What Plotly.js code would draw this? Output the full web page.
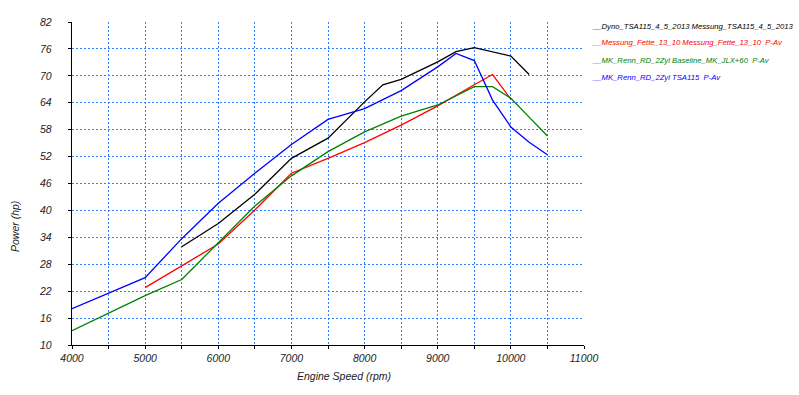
<!DOCTYPE html>
<html>
<head>
<meta charset="utf-8">
<script src="https://cdn.plot.ly/plotly-3.0.1.min.js"></script>
<style>html,body{margin:0;padding:0;background:#fff;}#chart{width:799px;height:395px;}</style>
</head>
<body>
<div id="chart"></div>
<script>
// ---- data ----
const seriesNames = [
  "__Dyno_TSA115_4_5_2013 Messung_TSA115_4_5_2013",
  "__Messung_Fette_13_10 Messung_Fette_13_10  P-Av",
  "__MK_Renn_RD_2Zyl Baseline_MK_JLX+60  P-Av",
  "__MK_Renn_RD_2Zyl TSA115  P-Av"
];
const dynoRpm = [5500, 6000, 6500, 7000, 7500, 8000, 8250, 8500, 9000, 9250, 9500, 10000, 10250];
const dynoHp  = [31.9, 37.1, 43.6, 51.6, 56.1, 64.2, 68.0, 69.2, 73.1, 75.4, 76.3, 74.4, 70.3];
const fetteRpm = [5000, 5500, 6000, 6500, 7000, 7500, 8000, 8500, 9000, 9500, 9750, 10000];
const fetteHp  = [22.8, 27.7, 32.5, 40.1, 48.3, 51.6, 55.1, 59.0, 63.3, 68.0, 70.3, 64.8];
const baseRpm = [4000, 4500, 5000, 5500, 6000, 6500, 7000, 7500, 8000, 8500, 9000, 9250, 9500, 9750, 10000, 10250, 10500];
const baseHp  = [13.2, 17.1, 21.0, 24.6, 32.7, 41.0, 47.7, 53.1, 57.5, 61.0, 63.5, 65.5, 67.6, 67.6, 65.0, 60.8, 56.6];
const tsaRpm = [4000, 4500, 5000, 5500, 6000, 6500, 7000, 7500, 8000, 8500, 9000, 9250, 9500, 9750, 10000, 10250, 10500];
const tsaHp  = [18.1, 21.5, 25.0, 33.7, 41.6, 48.3, 54.7, 60.3, 62.7, 66.7, 72.0, 75.0, 73.4, 64.6, 58.6, 55.2, 52.4];
const seriesColors = ["#000000", "#ff0000", "#008000", "#0000ff"];
const xTitle = "Engine Speed (rpm)";
const yTitle = "Power (hp)";

const xs = [dynoRpm, fetteRpm, baseRpm, tsaRpm];
const ys = [dynoHp, fetteHp, baseHp, tsaHp];
const traces = xs.map((x, i) => ({
  x: x, y: ys[i], type: 'scatter', mode: 'lines', name: seriesNames[i],
  line: {color: seriesColors[i], width: 1.3}, showlegend: false, hoverinfo: 'skip'
}));

const FONT = '"Liberation Sans", Arial, sans-serif';
const gridColor = '#2f80ff';
const legendAnns = seriesNames.map((n, i) => ({
  xref: 'paper', yref: 'paper', x: 1.0115, y: 1 - (4 + 17 * i) / 323,
  xanchor: 'left', yanchor: 'middle', showarrow: false, text: n,
  font: {family: FONT, size: 7.7, color: seriesColors[i], style: 'italic'}
}));

const layout = {
  width: 799, height: 395,
  margin: {l: 72, r: 215, t: 22, b: 50},
  paper_bgcolor: '#ffffff', plot_bgcolor: '#ffffff',
  font: {family: FONT, color: '#222'},
  xaxis: {
    range: [4000, 11000], tick0: 4000, dtick: 1000, tickmode: 'linear', tickformat: 'd',
    showgrid: true, gridcolor: gridColor, griddash: '2px,2px', gridwidth: 1,
    minor: {dtick: 500, showgrid: true, gridcolor: gridColor, griddash: '2px,2px', gridwidth: 1, ticks: 'outside', ticklen: 3, tickcolor: '#000'},
    showline: true, linecolor: '#000', linewidth: 1.2, mirror: false,
    ticks: 'outside', ticklen: 3, tickcolor: '#000',
    tickfont: {family: FONT, size: 10.5, color: '#222', style: 'italic'},
    zeroline: false, fixedrange: true
  },
  yaxis: {
    range: [10, 82], tick0: 10, dtick: 6, tickmode: 'linear',
    showgrid: true, gridcolor: gridColor, griddash: '2px,2px', gridwidth: 1,
    showline: true, linecolor: '#000', linewidth: 1.2, mirror: false,
    ticks: 'outside', ticklen: 3, tickcolor: '#000', ticklabelstandoff: 14,
    tickfont: {family: FONT, size: 10.5, color: '#222', style: 'italic'},
    zeroline: false, fixedrange: true
  },
  annotations: legendAnns.concat([
    {xref: 'paper', yref: 'paper', x: (344 - 72) / 512, y: -(375.5 - 345) / 323, xanchor: 'center', yanchor: 'middle',
     showarrow: false, text: xTitle, font: {family: FONT, size: 10.5, color: '#222', style: 'italic'}},
    {xref: 'paper', yref: 'paper', x: -(72 - 15) / 512, y: (345 - 227) / 323, xanchor: 'center', yanchor: 'middle',
     showarrow: false, textangle: -90, text: yTitle, font: {family: FONT, size: 10.5, color: '#222', style: 'italic'}}
  ])
};

Plotly.newPlot('chart', traces, layout, {displayModeBar: false, staticPlot: true});
</script>
</body>
</html>
